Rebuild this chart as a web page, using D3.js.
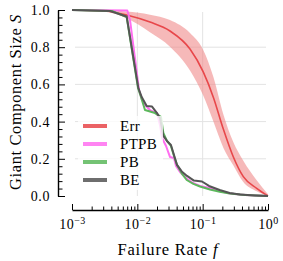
<!DOCTYPE html>
<html lang="en">
  <head>
    <meta charset="UTF-8" />
    <title>Giant Component Size</title>
    <script src="https://d3js.org/d3.v7.min.js"></script>
    <style>
      body {
        margin: 0;
        background: #fff;
      }
      svg text {
        font-family: "Liberation Serif", "DejaVu Serif", serif;
        fill: #000;
      }
      .axis path,
      .axis line {
        stroke: #000;
      }
      .grid line {
        stroke: #e3e3e3;
        stroke-width: 1;
      }
    </style>
  </head>
  <body>
    <svg width="283" height="261"></svg>
    <script>
      // Err: mean and band
      const errF = [0.001, 0.0032, 0.00687, 0.0156, 0.0316, 0.064, 0.102, 0.146, 0.207, 0.294, 0.419, 0.671, 1.0];
      const errS = [1.0, 0.995, 0.973, 0.935, 0.887, 0.79, 0.667, 0.53, 0.36, 0.211, 0.104, 0.041, 0.0];
      const errHi = [1.0, 1.0, 0.992, 0.975, 0.946, 0.876, 0.785, 0.64, 0.44, 0.29, 0.19, 0.085, 0.01];
      const errLo = [1.0, 0.99, 0.955, 0.88, 0.803, 0.675, 0.54, 0.4, 0.26, 0.165, 0.075, 0.025, 0.0];

      const ptpbF = [0.001, 0.00702, 0.00773, 0.01061, 0.01178, 0.01357, 0.01563, 0.018, 0.02, 0.0222, 0.0239, 0.0275, 0.0316, 0.0364, 0.0391, 0.045, 0.0556, 0.0711, 0.091, 0.1294, 0.184, 0.262, 0.444, 1.0];
      const ptpbS = [1.0, 0.997, 0.946, 0.57, 0.516, 0.484, 0.462, 0.452, 0.446, 0.382, 0.312, 0.269, 0.21, 0.204, 0.161, 0.129, 0.097, 0.07, 0.054, 0.043, 0.027, 0.013, 0.005, 0.0];

      const pbF = [0.001, 0.00409, 0.00687, 0.01023, 0.01138, 0.0131, 0.01563, 0.01862, 0.023, 0.025, 0.0284, 0.0327, 0.0364, 0.0405, 0.0478, 0.057, 0.0721, 0.091, 0.1294, 0.182, 0.259, 0.444, 1.0];
      const pbS = [1.0, 0.995, 0.962, 0.581, 0.532, 0.462, 0.454, 0.446, 0.425, 0.339, 0.296, 0.269, 0.215, 0.167, 0.122, 0.086, 0.065, 0.051, 0.035, 0.023, 0.013, 0.005, 0.0];

      const beF = [0.001, 0.00382, 0.00687, 0.01035, 0.01167, 0.0139, 0.0168, 0.02, 0.0222, 0.025, 0.0284, 0.0327, 0.0364, 0.0405, 0.0478, 0.0576, 0.0736, 0.0977, 0.125, 0.182, 0.259, 0.373, 0.632, 1.0];
      const beS = [1.0, 0.995, 0.965, 0.581, 0.532, 0.484, 0.481, 0.446, 0.419, 0.323, 0.296, 0.274, 0.22, 0.167, 0.132, 0.108, 0.083, 0.078, 0.054, 0.032, 0.016, 0.008, 0.003, 0.0];

      const legendNames = ["Err", "PTPB", "PB", "BE"];
      const colors = ["#e8474a", "#ff6ef0", "#5cb85c", "#555555"];

      const yTicks = [0, 0.2, 0.4, 0.6, 0.8, 1.0];
      const xTicks = [1e-3, 1e-2, 1e-1, 1];
      const xTickExp = ["\u22123", "\u22122", "\u22121", "0"];

      const svg = d3.select("svg");

      const x = d3.scaleLog().domain([1e-3, 1]).range([72, 268]);
      const y = d3.scaleLinear().domain([0, 1]).range([196, 10]);

      // grid
      const grid = svg.append("g").attr("class", "grid");
      grid
        .selectAll("line.h")
        .data([0.2, 0.4, 0.6, 0.8])
        .enter()
        .append("line")
        .attr("x1", 75)
        .attr("x2", 266)
        .attr("y1", (d) => y(d))
        .attr("y2", (d) => y(d));
      grid
        .selectAll("line.v")
        .data([1e-2, 1e-1])
        .enter()
        .append("line")
        .attr("x1", (d) => x(d))
        .attr("x2", (d) => x(d))
        .attr("y1", 12)
        .attr("y2", 196);

      // Err band + line
      const bandData = errF.map((f, i) => ({ f: f, lo: errLo[i], hi: errHi[i] }));
      svg
        .append("path")
        .datum(bandData)
        .attr("fill", "#f08a8a")
        .attr("fill-opacity", 0.6)
        .attr(
          "d",
          d3
            .area()
            .x((d) => x(d.f))
            .y0((d) => y(d.lo))
            .y1((d) => y(d.hi))
            .curve(d3.curveMonotoneX)
        );

      const line = d3
        .line()
        .x((d) => x(d[0]))
        .y((d) => y(d[1]));

      const series = [
        { f: errF, s: errS, c: colors[0], smooth: true },
        { f: ptpbF, s: ptpbS, c: colors[1] },
        { f: pbF, s: pbS, c: colors[2] },
        { f: beF, s: beS, c: colors[3] },
      ];

      series.forEach((sr) => {
        const pts = sr.f.map((f, i) => [f, sr.s[i]]);
        svg
          .append("path")
          .datum(pts)
          .attr("fill", "none")
          .attr("stroke", sr.c)
          .attr("stroke-width", sr.smooth ? 1.6 : 2)
          .attr("stroke-linejoin", "round")
          .attr("d", sr.smooth ? line.curve(d3.curveMonotoneX)(pts) : line.curve(d3.curveLinear)(pts));
      });

      // y axis (offset spine, ticks inward)
      const yAxis = svg
        .append("g")
        .attr("class", "axis")
        .attr("transform", "translate(58,0)")
        .call(
          d3
            .axisLeft(y)
            .tickValues(yTicks)
            .tickFormat(d3.format(".1f"))
            .tickSize(-7)
            .tickSizeOuter(0)
            .tickPadding(8)
        );
      yAxis.select(".domain").attr("stroke-width", 1.4);
      yAxis.selectAll("text").attr("font-size", 14).attr("letter-spacing", 0.6);

      const yMinor = d3.range(0, 1.001, 0.04).filter((v) => Math.abs(v * 5 - Math.round(v * 5)) > 1e-6);
      svg
        .append("g")
        .attr("class", "axis")
        .attr("transform", "translate(58,0)")
        .call(d3.axisLeft(y).tickValues(yMinor).tickFormat("").tickSize(-4.5).tickSizeOuter(0))
        .select(".domain")
        .remove();

      // x axis
      const xAxis = svg
        .append("g")
        .attr("class", "axis")
        .attr("transform", "translate(0,210)")
        .call(d3.axisBottom(x).tickValues(xTicks).tickSize(-6).tickSizeOuter(0).tickPadding(9));
      xAxis.select(".domain").attr("stroke-width", 1.4);
      xAxis.selectAll("text").each(function (d, i) {
        const t = d3.select(this).text("").attr("font-size", 14).attr("letter-spacing", 0.5);
        t.append("tspan").text("10");
        t.append("tspan").attr("dy", "-0.45em").attr("font-size", 10).text(xTickExp[i]);
      });

      const xMinor = [];
      [1e-3, 1e-2, 1e-1].forEach((d) => {
        for (let k = 2; k <= 9; k++) xMinor.push(d * k);
      });
      svg
        .append("g")
        .attr("class", "axis")
        .attr("transform", "translate(0,210)")
        .call(d3.axisBottom(x).tickValues(xMinor).tickFormat("").tickSize(-3.5).tickSizeOuter(0))
        .select(".domain")
        .remove();

      // axis labels
      const xl = svg
        .append("text")
        .attr("x", 168)
        .attr("y", 255)
        .attr("text-anchor", "middle")
        .attr("font-size", 16.5)
        .attr("letter-spacing", 0.8);
      xl.append("tspan").text("Failure Rate ");
      xl.append("tspan").attr("font-style", "italic").text("f");

      const yl = svg
        .append("text")
        .attr("transform", "translate(21,102) rotate(-90)")
        .attr("text-anchor", "middle")
        .attr("font-size", 16.5)
        .attr("letter-spacing", 0.6);
      yl.append("tspan").text("Giant Component Size ");
      yl.append("tspan").attr("font-style", "italic").text("S");

      // legend
      const lg = svg.append("g");
      lg.append("rect")
        .attr("x", 78)
        .attr("y", 116)
        .attr("width", 85)
        .attr("height", 74)
        .attr("fill", "#fff")
        .attr("fill-opacity", 0.8);
      legendNames.forEach((n, i) => {
        const yy = 126 + i * 18;
        lg.append("line")
          .attr("x1", 83)
          .attr("x2", 107)
          .attr("y1", yy)
          .attr("y2", yy)
          .attr("stroke", colors[i])
          .attr("stroke-opacity", 0.85)
          .attr("stroke-width", 4);
        lg.append("text")
          .attr("x", 120)
          .attr("y", yy)
          .attr("dy", "0.36em")
          .attr("font-size", 15)
          .attr("letter-spacing", 0.3)
          .text(n);
      });
    </script>
  </body>
</html>
